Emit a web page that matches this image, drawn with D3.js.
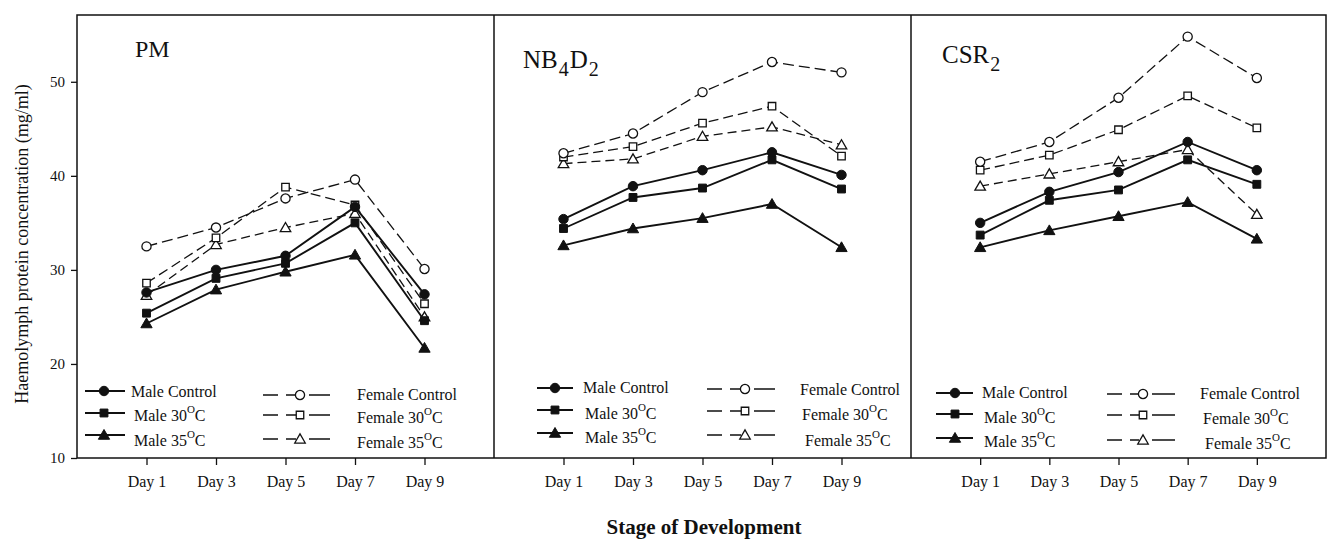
<!DOCTYPE html>
<head>
  <meta charset="utf-8">
  <script src="https://d3js.org/d3.v7.min.js"></script>
  <style>
    body { margin:0; background:#fff; }
    svg { display:block; font-family:"Liberation Serif","Times New Roman",serif; }
  </style>
</head>
<body>
<script type='text/javascript'>
  // data (mg/ml), one row per panel, one value per day
  var days = ["Day 1", "Day 3", "Day 5", "Day 7", "Day 9"];
  var panelNames = ["PM", "NB4D2", "CSR2"];
  var yTicks = [10, 20, 30, 40, 50];

  var maleControl = [[27.6, 30.0, 31.5, 36.7, 27.4], [35.4, 38.9, 40.6, 42.5, 40.1], [35.0, 38.3, 40.4, 43.6, 40.6]];
  var male30      = [[25.4, 29.1, 30.7, 35.0, 24.6], [34.4, 37.7, 38.7, 41.7, 38.6], [33.7, 37.4, 38.5, 41.7, 39.1]];
  var male35      = [[24.3, 27.9, 29.8, 31.6, 21.7], [32.6, 34.4, 35.5, 37.0, 32.4], [32.4, 34.2, 35.7, 37.2, 33.3]];
  var femaleControl = [[32.5, 34.5, 37.6, 39.6, 30.1], [42.4, 44.5, 48.9, 52.1, 51.0], [41.5, 43.6, 48.3, 54.8, 50.4]];
  var female30    = [[28.6, 33.4, 38.8, 36.9, 26.4], [42.0, 43.1, 45.6, 47.4, 42.1], [40.6, 42.2, 44.9, 48.5, 45.1]];
  var female35    = [[27.3, 32.7, 34.5, 36.0, 25.0], [41.3, 41.8, 44.2, 45.2, 43.3], [38.9, 40.2, 41.5, 42.8, 35.9]];

  var series = [
    {name: "Male Control", deg: false, values: maleControl, shape: d3.symbolCircle, size: 70, open: false, dash: null},
    {name: "Male 30", deg: true, values: male30, shape: d3.symbolSquare, size: 62, open: false, dash: null},
    {name: "Male 35", deg: true, values: male35, shape: d3.symbolTriangle, size: 55, open: false, dash: null},
    {name: "Female Control", deg: false, values: femaleControl, shape: d3.symbolCircle, size: 66, open: true, dash: "11,5"},
    {name: "Female 30", deg: true, values: female30, shape: d3.symbolSquare, size: 56, open: true, dash: "10,5"},
    {name: "Female 35", deg: true, values: female35, shape: d3.symbolTriangle, size: 48, open: true, dash: "9,5"}
  ];

  var W = 1328, H = 541;
  var plotTop = 15, plotBottom = 458;
  var panelLefts = [77, 494, 911], plotRight = 1326;

  // legend layout per panel (pixels)
  var legends = [
    {mx: [85, 104, 125], mt: [131, 134, 134], fx: [263, 300, 330], ft: [357, 357, 357],
     my: [391, 413, 435], mty: [397, 421, 446], fy: [395, 415, 439], fty: [400, 423, 448]},
    {mx: [537, 555, 573], mt: [583, 585, 585], fx: [707, 745, 775], ft: [800, 802, 805],
     my: [388, 410, 433], mty: [393, 419, 443], fy: [389, 411, 435], fty: [395, 420, 446]},
    {mx: [936, 955, 973], mt: [982, 984, 984], fx: [1107, 1143, 1175], ft: [1200, 1203, 1205],
     my: [393, 414, 438], mty: [398, 423, 447], fy: [394, 415, 440], fty: [399, 424, 449]}
  ];

  var svg = d3.select("body").append("svg").attr("width", W).attr("height", H);

  var y = d3.scaleLinear().domain([10, 57.1]).range([plotBottom, plotTop]);

  // y axis, left panel only
  var yAxis = svg.append("g")
    .attr("transform", "translate(" + panelLefts[0] + ",0)")
    .call(d3.axisLeft(y).tickValues(yTicks).tickSize(6).tickPadding(6));
  yAxis.select(".domain").remove();
  yAxis.selectAll("line").attr("stroke", "#111").attr("stroke-width", 1.3);
  yAxis.selectAll("text").attr("font-size", 15).attr("font-family", "Liberation Serif").attr("fill", "#111");

  svg.append("text")
    .attr("transform", "translate(28,244) rotate(-90)")
    .attr("text-anchor", "middle")
    .attr("font-size", 18)
    .attr("fill", "#111")
    .text("Haemolymph protein concentration (mg/ml)");

  function symbolPath(s) {
    return d3.symbol().type(s.shape).size(s.size)();
  }

  function addLabel(sel, s) {
    sel.append("tspan").text(s.name);
    if (s.deg) {
      sel.append("tspan").attr("font-size", 11).attr("dy", -8).text("O");
      sel.append("tspan").attr("dy", 8).text("C");
    }
  }

  panelNames.forEach(function (pn, p) {
    var left = panelLefts[p];
    var right = p < 2 ? panelLefts[p + 1] : plotRight;
    var x = d3.scalePoint().domain(days).range([left, right]).padding(1);

    var xAxis = svg.append("g")
      .attr("transform", "translate(0," + plotBottom + ")")
      .call(d3.axisBottom(x).tickSize(7).tickPadding(11));
    xAxis.select(".domain").remove();
    xAxis.selectAll("line").attr("stroke", "#111").attr("stroke-width", 1.3);
    xAxis.selectAll("text").attr("font-size", 16).attr("font-family", "Liberation Serif").attr("fill", "#111");

    var g = svg.append("g");
    var line = d3.line().x(function (d, i) { return x(days[i]); }).y(function (d) { return y(d); });

    // dashed female lines first, then solid male lines
    series.slice().reverse().forEach(function (s) {
      g.append("path")
        .attr("d", line(s.values[p]))
        .attr("fill", "none")
        .attr("stroke", "#111")
        .attr("stroke-width", s.open ? 1.3 : 1.9)
        .attr("stroke-dasharray", s.dash);
    });
    series.slice().reverse().forEach(function (s) {
      g.selectAll(null).data(s.values[p]).enter().append("path")
        .attr("d", symbolPath(s))
        .attr("transform", function (d, i) {
          var dy = s.shape === d3.symbolTriangle ? 1 : 0;
          return "translate(" + x(days[i]) + "," + (y(d) + dy) + ")";
        })
        .attr("fill", s.open ? "#fff" : "#111")
        .attr("stroke", "#111")
        .attr("stroke-width", s.open ? 1.3 : 1);
    });

    // panel title with subscripts
    var title = svg.append("text").attr("font-size", 24).attr("fill", "#111");
    if (p === 0) {
      title.attr("x", 135).attr("y", 57).text("PM");
    } else if (p === 1) {
      title.attr("x", 523).attr("y", 68).attr("font-size", 25);
      title.append("tspan").text("NB");
      title.append("tspan").attr("font-size", 20).attr("dx", 1).attr("dy", 8).text("4");
      title.append("tspan").attr("dx", 1).attr("dy", -8).text("D");
      title.append("tspan").attr("font-size", 20).attr("dx", 1).attr("dy", 8).text("2");
    } else {
      title.attr("x", 942).attr("y", 63).attr("font-size", 25);
      title.append("tspan").text("CSR");
      title.append("tspan").attr("font-size", 20).attr("dx", 1).attr("dy", 8).text("2");
    }

    // legend
    var L = legends[p];
    series.forEach(function (s, k) {
      var row = k % 3;
      var isF = s.open;
      var xs = isF ? L.fx : L.mx;
      var sy = isF ? L.fy[row] : L.my[row];
      var gapEnd = xs[1] - xs[0] - 4;
      svg.append("line")
        .attr("x1", xs[0]).attr("x2", xs[2]).attr("y1", sy).attr("y2", sy)
        .attr("stroke", "#111")
        .attr("stroke-width", isF ? 1.3 : 1.9)
        .attr("stroke-dasharray", isF ? ("15,8," + (gapEnd - 23) + ",13,40") : null);
      svg.append("path")
        .attr("d", symbolPath(s))
        .attr("transform", "translate(" + xs[1] + "," + (sy + (s.shape === d3.symbolTriangle ? 1 : 0)) + ")")
        .attr("fill", isF ? "#fff" : "#111")
        .attr("stroke", "#111")
        .attr("stroke-width", isF ? 1.3 : 1);
      var t = svg.append("text")
        .attr("x", isF ? L.ft[row] : L.mt[row])
        .attr("y", isF ? L.fty[row] : L.mty[row])
        .attr("font-size", 16)
        .attr("fill", "#111");
      addLabel(t, s);
    });
  });

  // frame and dividers
  svg.append("rect")
    .attr("x", panelLefts[0]).attr("y", plotTop)
    .attr("width", plotRight - panelLefts[0]).attr("height", plotBottom - plotTop)
    .attr("fill", "none").attr("stroke", "#111").attr("stroke-width", 1.5);
  panelLefts.slice(1).forEach(function (px) {
    svg.append("line")
      .attr("x1", px).attr("x2", px).attr("y1", plotTop).attr("y2", plotBottom)
      .attr("stroke", "#111").attr("stroke-width", 1.5);
  });

  svg.append("text")
    .attr("x", 704).attr("y", 534)
    .attr("text-anchor", "middle")
    .attr("font-size", 21)
    .attr("font-weight", "bold")
    .attr("fill", "#111")
    .text("Stage of Development");
</script>
</body>
